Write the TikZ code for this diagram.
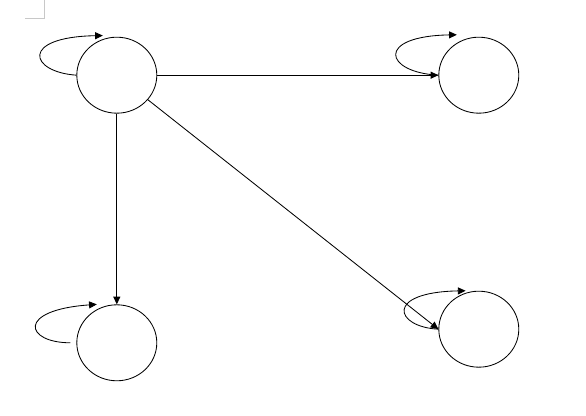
\documentclass[tikz,border=0pt]{standalone}
\usepackage{xcolor}
\usepackage{tikz}
\usetikzlibrary{shapes.geometric, arrows.meta, positioning}
\definecolor{statemark}{HTML}{C8C8C8}

\begin{document}
\begin{tikzpicture}[
  x=1cm, y=1cm,
  state/.style={draw, ellipse, line width=0.6pt, minimum width=2.0cm, minimum height=1.9cm, inner sep=0pt},
  move/.style={-{Triangle[length=5.5pt, width=5pt]}, line width=0.6pt},
  self/.style={-{Triangle[length=5.5pt, width=5pt]}, line width=0.6pt}
]
\useasboundingbox (0,0) rectangle (14.65,10.4);

% Page corner mark
\draw[statemark, line width=0.6pt] (1.1,10.4) -- (1.1,9.95) -- (0.625,9.95);

% States
\node[state] (s1) at (2.92,8.52) {};
\node[state] (s2) at (11.97,8.52) {};
\node[state] (s3) at (2.92,1.83) {};
\node[state] (s4) at (11.97,2.17) {};

% Transitions
\draw[move] (s1) -- (s2.west);
\draw[move] (s1) -- (s3.north);
\draw[move] (s1) -- (s4.west);

% Self loops
\coordinate (t1) at ([xshift=-0.35cm, yshift=0.03cm]s1.north);
\coordinate (t2) at ([xshift=-0.55cm, yshift=0.05cm]s2.north);
\coordinate (t3) at ([xshift=-0.50cm]s3.north);
\coordinate (t4) at ([xshift=-0.33cm]s4.north);
\coordinate (w3) at ([xshift=-0.15cm]s3.west);

\draw[self] (s1.west) to[out=176, in=181, out distance=1.18cm, in distance=2.08cm] (t1);
\draw[self] (s2.west) to[out=177, in=181, out distance=1.35cm, in distance=2.05cm] (t2);
\draw[self] (w3) to[out=180, in=184, out distance=1.13cm, in distance=2.03cm] (t3);
\draw[self] (s4.west) to[out=177, in=181, out distance=1.10cm, in distance=2.03cm] (t4);

\end{tikzpicture}
\end{document}
